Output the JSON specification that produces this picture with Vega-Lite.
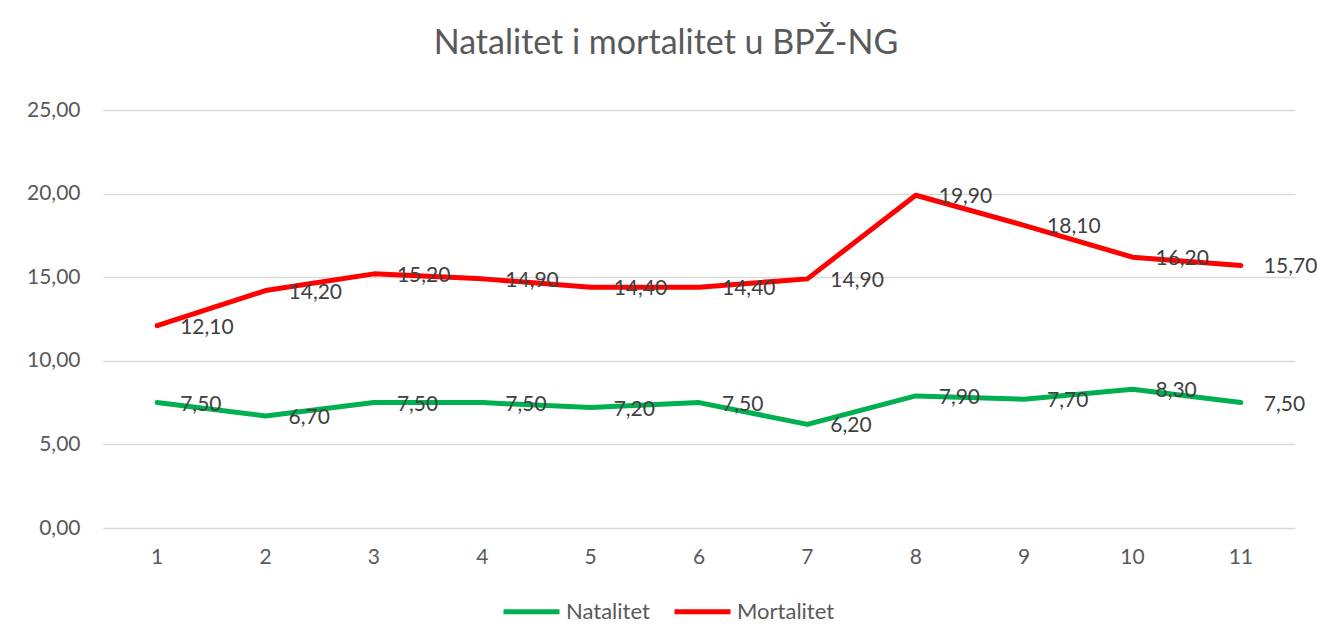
{
  "$schema": "https://vega.github.io/schema/vega-lite/v6.json",
  "width": 1192,
  "height": 418,
  "autosize": {"type": "none"},
  "padding": {"left": 103, "top": 110, "right": 22, "bottom": 115},
  "background": "white",
  "title": {
    "text": "Natalitet i mortalitet u BPŽ-NG",
    "font": "Lato",
    "fontSize": 34,
    "fontWeight": "normal",
    "color": "#595959",
    "anchor": "middle",
    "frame": "group",
    "dx": -33,
    "offset": 38
  },
  "data": {
    "values": [
      {"x": 1, "serija": "Natalitet", "v": 7.5},
      {"x": 2, "serija": "Natalitet", "v": 6.7},
      {"x": 3, "serija": "Natalitet", "v": 7.5},
      {"x": 4, "serija": "Natalitet", "v": 7.5},
      {"x": 5, "serija": "Natalitet", "v": 7.2},
      {"x": 6, "serija": "Natalitet", "v": 7.5},
      {"x": 7, "serija": "Natalitet", "v": 6.2},
      {"x": 8, "serija": "Natalitet", "v": 7.9},
      {"x": 9, "serija": "Natalitet", "v": 7.7},
      {"x": 10, "serija": "Natalitet", "v": 8.3},
      {"x": 11, "serija": "Natalitet", "v": 7.5},
      {"x": 1, "serija": "Mortalitet", "v": 12.1},
      {"x": 2, "serija": "Mortalitet", "v": 14.2},
      {"x": 3, "serija": "Mortalitet", "v": 15.2},
      {"x": 4, "serija": "Mortalitet", "v": 14.9},
      {"x": 5, "serija": "Mortalitet", "v": 14.4},
      {"x": 6, "serija": "Mortalitet", "v": 14.4},
      {"x": 7, "serija": "Mortalitet", "v": 14.9},
      {"x": 8, "serija": "Mortalitet", "v": 19.9},
      {"x": 9, "serija": "Mortalitet", "v": 18.1},
      {"x": 10, "serija": "Mortalitet", "v": 16.2},
      {"x": 11, "serija": "Mortalitet", "v": 15.7}
    ]
  },
  "encoding": {
    "x": {
      "field": "x",
      "type": "ordinal",
      "scale": {"type": "band", "paddingInner": 0, "paddingOuter": 0},
      "axis": {
        "title": null,
        "labelAngle": 0,
        "domain": false,
        "ticks": false,
        "grid": false,
        "labelFont": "Lato",
        "labelFontSize": 21,
        "labelColor": "#595959",
        "labelPadding": 18
      }
    },
    "y": {
      "field": "v",
      "type": "quantitative",
      "scale": {"domain": [0, 25], "nice": false},
      "axis": {
        "title": null,
        "values": [0, 5, 10, 15, 20, 25],
        "format": ".2f",
        "domain": false,
        "ticks": false,
        "grid": true,
        "gridColor": "#D9D9D9",
        "gridWidth": 1.5,
        "labelFont": "Lato",
        "labelFontSize": 21,
        "labelColor": "#595959",
        "labelPadding": 23
      }
    }
  },
  "layer": [
    {
      "mark": {"type": "line", "strokeWidth": 5, "strokeCap": "round", "strokeJoin": "round"},
      "encoding": {
        "color": {
          "field": "serija",
          "type": "nominal",
          "scale": {"domain": ["Natalitet", "Mortalitet"], "range": ["#00B050", "#FF0000"]},
          "legend": {
            "title": null,
            "orient": "none",
            "legendX": 398,
            "legendY": 471,
            "direction": "horizontal",
            "symbolType": "stroke",
            "symbolSize": 3136,
            "symbolStrokeWidth": 5,
            "labelFont": "Lato",
            "labelFontSize": 22,
            "labelColor": "#595959",
            "labelOffset": 4,
            "columnPadding": 14
          }
        }
      }
    },
    {
      "mark": {"type": "text", "align": "left", "baseline": "middle", "dx": 23, "dy": 2, "font": "Lato", "fontSize": 21, "color": "#404040"},
      "encoding": {
        "text": {"field": "v", "type": "quantitative", "format": ".2f"}
      }
    }
  ],
  "config": {
    "view": {"stroke": null},
    "locale": {
      "number": {"decimal": ",", "thousands": ".", "grouping": [3], "currency": ["", " €"]}
    }
  }
}
